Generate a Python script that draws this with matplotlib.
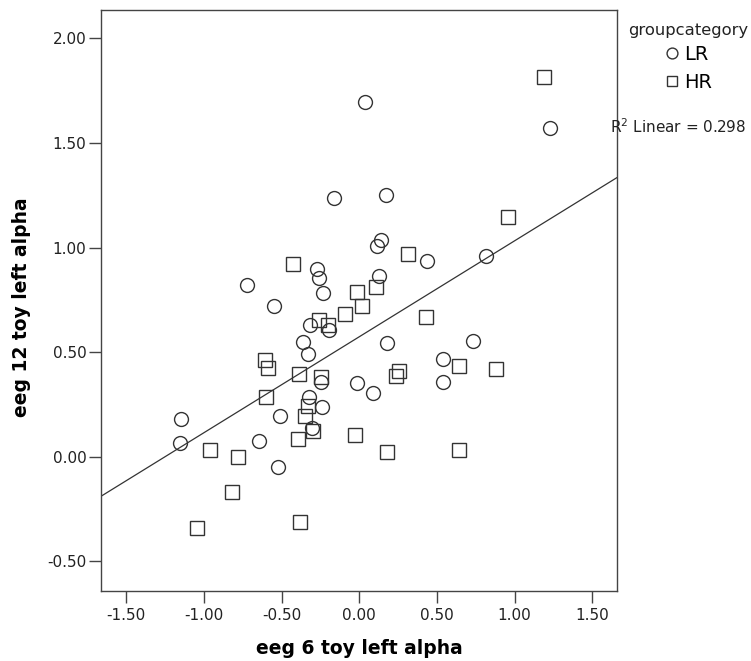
import numpy as np
import matplotlib
matplotlib.use("Agg")
import matplotlib.pyplot as plt
from matplotlib.ticker import FuncFormatter
from matplotlib.lines import Line2D

# ---- data ----
lr_x = [0.037, -0.161, -0.270, -0.259, -0.725, -0.232, -0.549, 1.230, 0.170, 0.138,
        0.112, 0.434, 0.814, 0.129, -0.317, -0.193, -0.361, -0.332, -0.247, -0.015,
        -0.324, -0.242, -0.511, -0.307, -1.146, -1.155, -0.646, -0.525, 0.176, 0.730,
        0.541, 0.537, 0.086]
lr_y = [1.695, 1.238, 0.899, 0.856, 0.821, 0.783, 0.719, 1.570, 1.251, 1.034,
        1.006, 0.936, 0.960, 0.863, 0.632, 0.608, 0.549, 0.490, 0.357, 0.355,
        0.284, 0.239, 0.196, 0.140, 0.180, 0.064, 0.075, -0.051, 0.546, 0.552,
        0.466, 0.357, 0.303]

hr_x = [-0.429, -0.013, 1.189, 0.316, 0.959, 0.108, -0.258, -0.204, -0.092, 0.020,
        -0.607, -0.590, -0.386, -0.247, -0.603, -0.328, -0.350, -0.296, -0.961, -0.781,
        -0.397, -0.822, -1.047, -0.380, -0.028, 0.429, 0.644, 0.880, 0.258, 0.236,
        0.176, 0.644]
hr_y = [0.920, 0.788, 1.814, 0.971, 1.146, 0.812, 0.653, 0.629, 0.681, 0.719,
        0.462, 0.422, 0.398, 0.382, 0.284, 0.242, 0.196, 0.123, 0.032, 0.000,
        0.083, -0.170, -0.339, -0.313, 0.106, 0.668, 0.433, 0.419, 0.411, 0.385,
        0.024, 0.032]

x_ticks = [-1.5, -1.0, -0.5, 0.0, 0.5, 1.0, 1.5]
y_ticks = [-0.5, 0.0, 0.5, 1.0, 1.5, 2.0]
group_labels = ["LR", "HR"]
legend_title = "groupcategory"
r2_text = "R$^2$ Linear = 0.298"
x_label = "eeg 6 toy left alpha"
y_label = "eeg 12 toy left alpha"

# ---- figure ----
plt.rcParams['font.family'] = ['DejaVu Sans']
W, H = 751, 661
fig = plt.figure(figsize=(W / 100, H / 100), dpi=100)
ax_l, ax_r, ax_t, ax_b = 100.7, 616.7, 9.5, 591.0
ax = fig.add_axes([ax_l / W, 1 - ax_b / H, (ax_r - ax_l) / W, (ax_b - ax_t) / H])

edge = '#333333'
ms = 10
ax.plot(lr_x, lr_y, linestyle='none', marker='o', markersize=ms,
        markerfacecolor='none', markeredgecolor=edge, markeredgewidth=1.0)
ax.plot(hr_x, hr_y, linestyle='none', marker='s', markersize=ms,
        markerfacecolor='none', markeredgecolor=edge, markeredgewidth=1.0)

xlim = (-1.665, 1.657)
ylim = (-0.641, 2.137)
ax.set_xlim(*xlim)
ax.set_ylim(*ylim)

# linear fit over all points
all_x = np.array(lr_x + hr_x)
all_y = np.array(lr_y + hr_y)
slope, intercept = np.polyfit(all_x, all_y, 1)
xx = np.array(xlim)
ax.plot(xx, slope * xx + intercept, color=edge, linewidth=0.9)

ax.set_xticks(x_ticks)
ax.set_yticks(y_ticks)
fmt = FuncFormatter(lambda v, p: ("-" if v < 0 else "") + f"{abs(v):.2f}")
ax.xaxis.set_major_formatter(fmt)
ax.yaxis.set_major_formatter(fmt)
ax.tick_params(direction='out', length=8.4, width=1.0, color='#444444',
               labelsize=11, labelcolor='#222222', pad=2)
ax.tick_params(axis='x', pad=4)
for s in ax.spines.values():
    s.set_color('#444444')
    s.set_linewidth(1.0)

ax.set_xlabel(x_label, fontsize=13.5, fontweight='bold', va='center', ha='center')
ax.xaxis.set_label_coords((359 - ax_l) / (ax_r - ax_l), (ax_b - 648.3) / (ax_b - ax_t))
ax.set_ylabel(y_label, fontsize=13.5, fontweight='bold', va='center', ha='center')
ax.yaxis.set_label_coords((21 - ax_l) / (ax_r - ax_l), (ax_b - 307) / (ax_b - ax_t))

# legend
handles = [Line2D([], [], linestyle='none', marker='o', markersize=7.8,
                  markerfacecolor='none', markeredgecolor=edge, markeredgewidth=1.0),
           Line2D([], [], linestyle='none', marker='s', markersize=7.8,
                  markerfacecolor='none', markeredgecolor=edge, markeredgewidth=1.0)]
fig.text(688 / W, 1 - 30.7 / H, legend_title, fontsize=11.8, ha='center', va='center',
         color='#222222')
fig.legend(handles, group_labels, loc='upper left',
           bbox_to_anchor=(665.9 / W, 1 - 45.3 / H), frameon=False,
           fontsize=14, handlelength=0.6, handletextpad=0.333, labelspacing=0.44,
           borderpad=0, borderaxespad=0)
fig.text(610 / W, 1 - 126.7 / H, r2_text, fontsize=11, va='center', ha='left',
         color='#222222')

fig.savefig("out.png", dpi=100)
